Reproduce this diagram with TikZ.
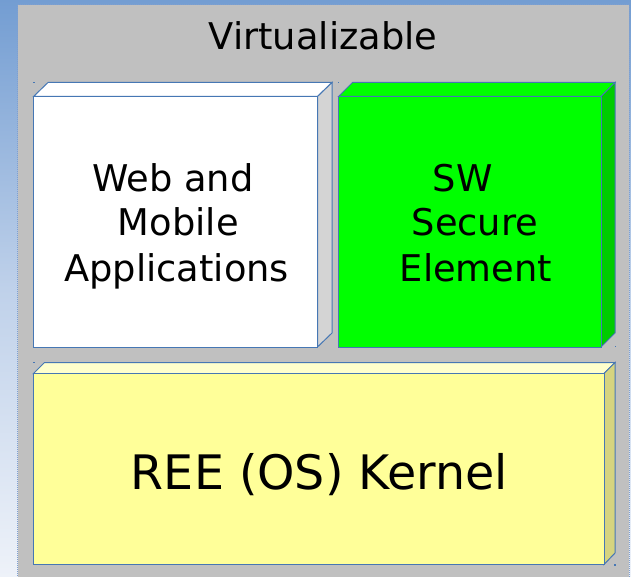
\documentclass[tikz,border=0pt]{standalone}
\usepackage{fontspec}
\setmainfont{DejaVu Sans}
\definecolor{panelgray}{HTML}{C0C0C0}
\definecolor{edgeblue}{HTML}{4677B4}
\definecolor{dotblue}{HTML}{7F9FCF}
\definecolor{bgtop}{HTML}{739DD2}
\definecolor{bgmid}{HTML}{BFD1EA}
\definecolor{bgbot}{HTML}{EEF2F9}
\definecolor{sidegray}{HTML}{D4D4D4}
\definecolor{swgreen}{HTML}{00FF00}
\definecolor{swgreenside}{HTML}{00CC00}
\definecolor{reeyellow}{HTML}{FFFF99}
\definecolor{reeyellowtop}{HTML}{FFFFCC}
\definecolor{reeyellowside}{HTML}{D6D47F}
\tikzset{
  face/.style={draw=edgeblue, line width=1pt, line join=miter},
  label36/.style={inner sep=0pt, anchor=base, font=\fontsize{36.8}{44}\selectfont},
  label47/.style={inner sep=0pt, anchor=base, font=\fontsize{47.5}{56}\selectfont},
  cornerdot/.style={fill=edgeblue, inner sep=0pt, minimum size=1.4pt},
}
\begin{document}
\begin{tikzpicture}[x=1pt, y=-1pt]
\useasboundingbox (0,0) rectangle (631,577);
% slide background
\fill[top color=bgtop, bottom color=bgbot, middle color=bgmid] (0,0) rectangle (631,577);
% grey container
\fill[panelgray] (17.5,4.7) rectangle (629.3,580);
\draw[dotblue, line width=0.9pt, dash pattern=on 1pt off 1pt] (17.5,580) -- (17.5,4.7) -- (629.3,4.7) -- (629.3,580);
\node[label36] (title) at (323,49.5) {Virtualizable};

% white application box
\fill[white, face] (33.5,96.5) -- (48,82.5) -- (332,82.5) -- (317.5,96.5) -- cycle;
\fill[sidegray, face] (317.5,96.5) -- (332,82.5) -- (332,333) -- (317.5,347) -- cycle;
\fill[white, face] (33.5,96.5) rectangle (317.5,347);
\node[label36] (web1) at (173,191.7) {Web and};
\node[label36] (web2) at (178.3,236) {Mobile};
\node[label36] (web3) at (176.7,281) {Applications};

% green secure element box
\fill[swgreen, face] (338.5,96.5) -- (352.5,82.5) -- (615,82.5) -- (601,96.5) -- cycle;
\fill[swgreenside, face] (601,96.5) -- (615,82.5) -- (615,333) -- (601,347) -- cycle;
\fill[swgreen, face] (338.5,96.5) rectangle (601,347);
\node[label36] (se1) at (462.5,191.7) {SW};
\node[label36] (se2) at (475,236) {Secure};
\node[label36] (se3) at (476,281) {Element};

% yellow kernel box
\fill[reeyellowtop, face] (33.5,373.5) -- (44.5,362.5) -- (615,362.5) -- (604,373.5) -- cycle;
\fill[reeyellowside, face] (604,373.5) -- (615,362.5) -- (615,553) -- (604,564.5) -- cycle;
\fill[reeyellow, face] (33.5,373.5) rectangle (604,564.5);
\node[label47] (kernel) at (319.5,489) {REE (OS) Kernel};

% bounding-box corner marks
\node[cornerdot] (d1) at (34,82.5) {};
\node[cornerdot] (d2) at (338.3,82.7) {};
\node[cornerdot] (d3) at (34,362.7) {};
\node[cornerdot] (d4) at (615.5,346.7) {};
\node[cornerdot] (d5) at (615,565) {};
\end{tikzpicture}
\end{document}
